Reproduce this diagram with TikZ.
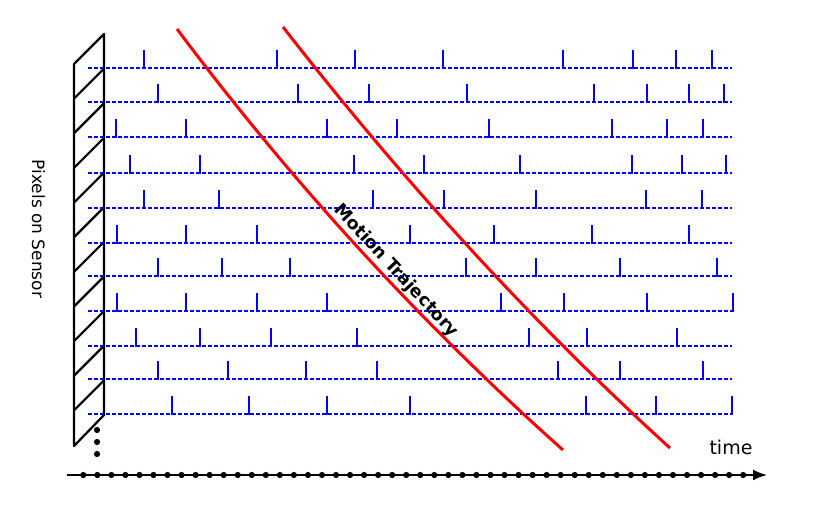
\documentclass[tikz,border=0pt]{standalone}
\usepackage{fontspec}
\setmainfont{DejaVu Sans}
\usetikzlibrary{arrows.meta}
\definecolor{pblue}{RGB}{0,0,255}
\definecolor{pred}{RGB}{255,0,0}
\tikzset{
  slab/.style={black, line width=2.2pt, line join=round},
  rowline/.style={pblue, line width=1.5pt, dash pattern=on 4pt off 2pt},
  spike/.style={pblue, line width=2pt},
  traj/.style={pred, line width=3pt},
  dotmark/.style={circle, fill=black, inner sep=0pt, minimum size=6.2pt},
  axisline/.style={black, line width=2pt, -{Latex[length=14pt,width=11pt]}},
}
\newcommand\pixrow[2]{%
  \draw[rowline] (88,#1) -- (732,#1);
  \foreach \sx in {#2} {\draw[spike] (\sx,#1+0.7) -- (\sx,#1-18);}
}
\begin{document}
\begin{tikzpicture}[x=1pt,y=-1pt]
\useasboundingbox (0,0) rectangle (814,505);
% sensor slab
\draw[slab] (104,34) -- (74,64) -- (74,446) -- (104,415) -- cycle;
\foreach \k in {1,...,10} {\draw[slab] (104,{34+34.64*\k}) -- (74,{64+34.64*\k});}
% pixel rows with events
\pixrow{68}{144,277,355,443,563,633,676,712}
\pixrow{102}{158,298,369,467,594,647,689,724}
\pixrow{137}{116,186,327,397,489,612,667,703}
\pixrow{173}{130,200,354,424,520,632,682,726}
\pixrow{208}{144,219,373,444,536,646,702}
\pixrow{243}{117,186,257,410,494,592,689}
\pixrow{276}{158,222,290,466,536,620,717}
\pixrow{311}{117,186,257,327,501,564,647,733}
\pixrow{346}{136,200,271,357,529,587,677}
\pixrow{379}{158,228,306,377,558,620,703}
\pixrow{414}{172,249,327,410,586,656,732}
% motion trajectories
\coordinate (a1) at (177,29);
\coordinate (b1) at (563,450);
\coordinate (a2) at (283,27);
\coordinate (b2) at (670,448);
\draw[traj] (a1) .. controls (292.3,183) and (421,323.3) .. (b1);
\draw[traj] (a2) .. controls (406.7,185.7) and (535.7,326) .. (b2);
\node[font=\bfseries\fontsize{17.5}{17.5}\selectfont, rotate=-47, inner sep=0pt] (mt) at (396,271) {Motion Trajectory};
% vertical ellipsis
\foreach \v/\yy in {1/430,2/442,3/454} {\node[dotmark] (vd\v) at (97,\yy) {};}
% time axis
\coordinate (t0) at (67,475);
\coordinate (t1) at (767,475);
\draw[axisline] (t0) -- (t1);
\foreach \k in {0,...,47} {\node[dotmark] (td\k) at ({83.3+14.04*\k},475) {};}
\node[font=\fontsize{19}{19}\selectfont, anchor=base, inner sep=0pt] (time) at (731,454) {time};
\node[font=\fontsize{17}{17}\selectfont, rotate=-90, anchor=base, inner sep=0pt] (pix) at (32,229) {Pixels on Sensor};
\end{tikzpicture}
\end{document}
